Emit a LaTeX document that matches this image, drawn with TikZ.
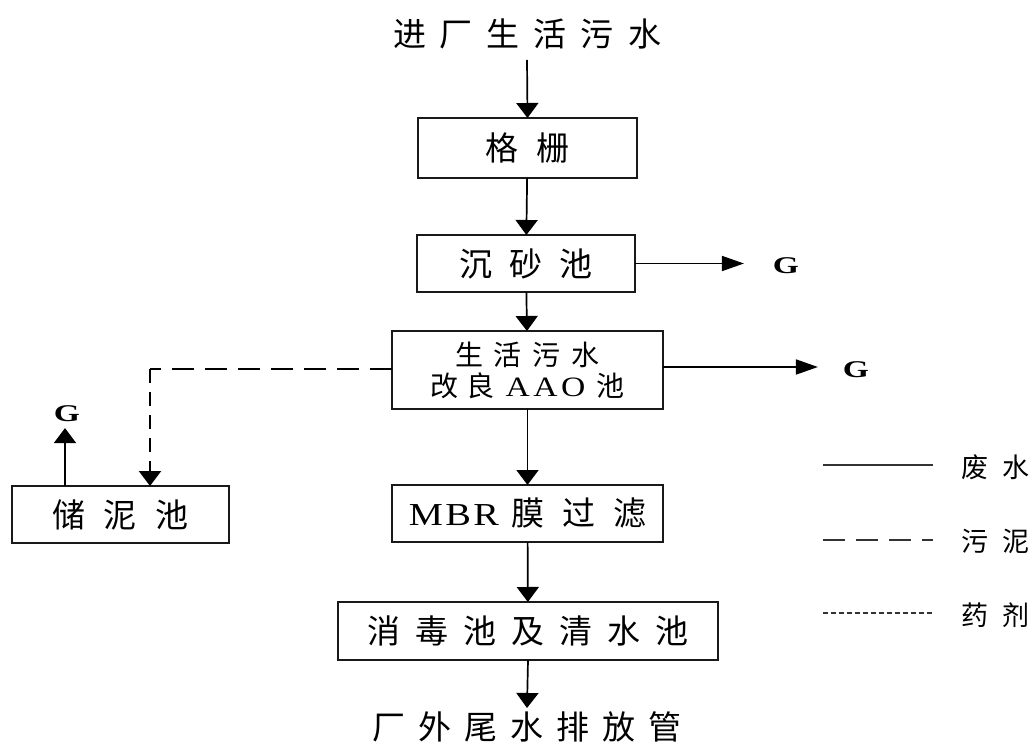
\documentclass[tikz,border=0pt]{standalone}
\usepackage{fontspec}
\setmainfont{Liberation Serif}
\newfontfamily\cjk{Noto Sans CJK SC}
\usetikzlibrary{arrows.meta}
\newcommand{\hg}[1]{\hspace*{#1pt}}
\newcommand{\fs}[1]{\fontsize{#1}{#1}\selectfont}
\newcommand{\lat}[2]{{\rmfamily\fs{#1}\scalebox{1.2}[1]{#2}}}
\begin{document}
\begin{tikzpicture}[x=1pt,y=-1pt,
  box/.style={draw=black!90, line width=1.8pt, inner sep=0pt, outer sep=0pt, font=\cjk\fs{33}},
  plain/.style={inner sep=0pt, outer sep=0pt, font=\cjk\fs{33}},
  gl/.style={inner sep=0pt, outer sep=0pt, font=\rmfamily\bfseries\fs{24}},
  vflow/.style={line width=1.7pt, -{Triangle[width=22pt,length=15pt]}},
  hflow/.style={line width=1.7pt, -{Triangle[width=15pt,length=22pt]}},
  legtext/.style={inner sep=0pt, outer sep=0pt, font=\cjk\fs{27}},
]
\useasboundingbox[fill=white] (0,0) rectangle (1035,751);

% main column
\node[plain, minimum height=53pt] (title) at (527,34) {进\hg{14}厂\hg{14}生\hg{14}活\hg{14}污\hg{14}水};
\node[box, minimum width=219pt, minimum height=60pt] (gs) at (527.5,148) {格\hg{18}栅};
\node[box, minimum width=218pt, minimum height=57pt] (cs) at (526,263.5) {沉\hg{17}砂\hg{17}池};
\node[box, minimum width=271pt, minimum height=78pt, align=center, font=\cjk\fs{28}] (aao) at (527.5,370)
  {生\hg{11}活\hg{11}污\hg{11}水\\[3pt]改\hg{8}良\hg{11}\lat{28}{A\hg{3}A\hg{3}O}\hg{11}池};
\node[box, minimum width=271pt, minimum height=57pt] (mbr) at (527.5,513.5)
  {\lat{32}{M\hg{2}B\hg{2}R}\hg{12}膜\hg{18}过\hg{18}滤};
\node[box, minimum width=380pt, minimum height=58pt] (dis) at (528,631)
  {消\hg{15}毒\hg{15}池\hg{15}及\hg{15}清\hg{15}水\hg{15}池};
\node[plain, minimum height=38pt] (out) at (527,727) {厂\hg{13}外\hg{13}尾\hg{13}水\hg{13}排\hg{13}放\hg{13}管};

% sludge tank
\node[box, minimum width=217pt, minimum height=57pt] (sl) at (120.5,514.5) {储\hg{19}泥\hg{19}池};

% G labels
\node[gl] (g1) at (786,266) {\scalebox{1.4}[1]{G}};
\node[gl] (g2) at (856,370) {\scalebox{1.4}[1]{G}};
\node[gl] (g3) at (67,414) {\scalebox{1.4}[1]{G}};

% flow arrows
\draw[vflow] (title.south |- 0,60) -- (gs.north);
\draw[vflow] (gs) -- (cs);
\draw[vflow] (cs) -- (aao);
\draw[vflow] (aao) -- (mbr);
\draw[vflow] (mbr) -- (dis);
\draw[vflow] (dis.south) -- (out.north);

\draw[hflow, shorten >=29pt] (cs.east) -- (g1.west |- cs.east);
\draw[hflow, shorten >=25pt] (aao.east |- 0,367) -- (g2.west |- 0,367);
\draw[vflow, shorten >=6pt] (sl.north -| 65,0) -- (g3.south -| 65,0);

% sludge line
\coordinate (dk) at (150,369);
\draw[line width=2pt, dash pattern=on 22pt off 11pt] (aao.west |- dk) -- (dk);
\draw[line width=2.2pt, dash pattern=on 14pt off 9pt, -{Triangle[width=22pt,length=15pt]}] (dk) -- (dk |- sl.north);

% legend
\coordinate (l1a) at (823,465); \coordinate (l1b) at (933,465);
\coordinate (l2a) at (823,540); \coordinate (l2b) at (933,540);
\coordinate (l3a) at (823,613); \coordinate (l3b) at (933,613);
\draw[line width=1.8pt, black!80] (l1a) -- (l1b);
\draw[line width=1.8pt, black!80, dash pattern=on 22pt off 11pt] (l2a) -- (l2b);
\draw[line width=1.4pt, black!80, dash pattern=on 5pt off 3pt] (l3a) -- (l3b);
\node[legtext] (t1) at (995,467) {废\hg{14}水};
\node[legtext] (t2) at (995,541) {污\hg{14}泥};
\node[legtext] (t3) at (995,615) {药\hg{14}剂};
\end{tikzpicture}
\end{document}
